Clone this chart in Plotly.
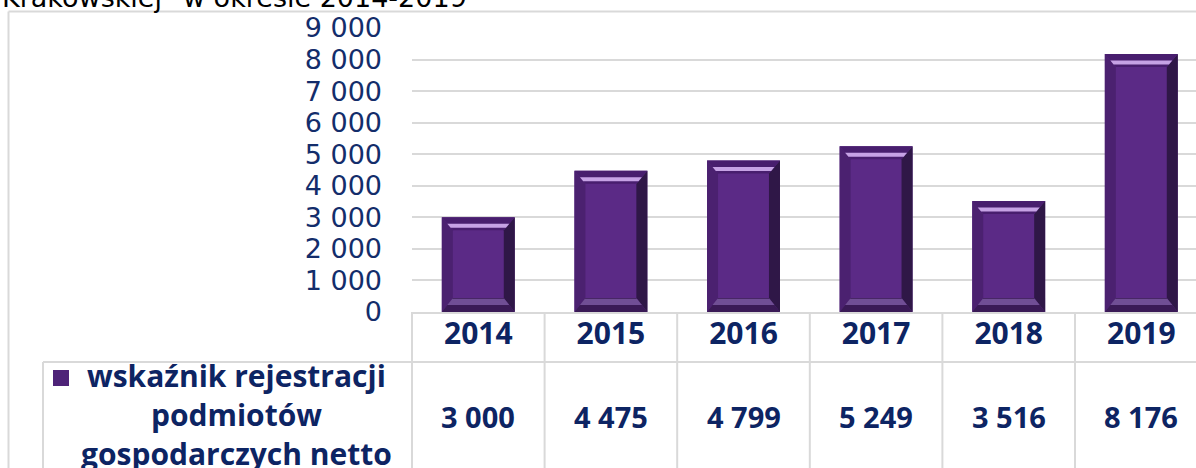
import plotly.graph_objects as go

# ---- data ----
years = ["2014", "2015", "2016", "2017", "2018", "2019"]
values = [3000, 4475, 4799, 5249, 3516, 8176]
series_lines = ["wskaźnik rejestracji", "podmiotów", "gospodarczych netto"]
title_text = 'Krakowskiej" w okresie 2014-2019'
y_ticks = list(range(0, 9001, 1000))

# ---- layout geometry (pixels) ----
W, H = 1196, 468
PL, PR, PT, PB = 412, 1196, 28, 312
CAT_PX = 132.6
XR = [-0.5, -0.5 + (PR - PL) / CAT_PX]
YR = [0, 9000]

def pxx(p):
    return (p - PL) / (PR - PL)

def pxy(p):
    return (PB - p) / (PB - PT)

def dx(p):
    return p / CAT_PX

def dy(p):
    return p * (YR[1] - YR[0]) / (PB - PT)

NAVY = "#0D2463"
TICK = "#132D6B"
GRID = "#D9D9D9"
FACE = "#5B2A86"

xs = list(range(len(years)))
BW = 0.55

fig = go.Figure()
fig.add_trace(go.Bar(x=xs, y=values, width=BW, marker=dict(color=FACE, line=dict(width=0)),
                     showlegend=False, hoverinfo="skip"))

shapes = []
sx, ty, by = dx(11), dy(13), dy(14)

def poly(pts, color, opacity=1.0):
    path = "M " + " L ".join(f"{a},{b}" for a, b in pts) + " Z"
    return dict(type="path", path=path, xref="x", yref="y", fillcolor=color,
                line=dict(width=0), opacity=opacity, layer="above")

for x, v in zip(xs, values):
    x0, x1 = x - BW / 2, x + BW / 2
    # left / right bevels
    shapes.append(poly([(x0, 0), (x0, v), (x0 + sx, v - ty), (x0 + sx, by)], "#4B2170"))
    shapes.append(poly([(x1, 0), (x1, v), (x1 - sx, v - ty), (x1 - sx, by)], "#2F1747"))
    # top bevel
    shapes.append(poly([(x0, v), (x1, v), (x1 - sx, v - ty), (x0 + sx, v - ty)], "#481E6E"))
    f1, f2 = 0.5, 0.8
    shapes.append(poly([(x0 + sx * f1, v - ty * f1), (x1 - sx * f1, v - ty * f1),
                        (x1 - sx * f2, v - ty * f2), (x0 + sx * f2, v - ty * f2)], "#D4B0F2", 0.9))
    # bottom bevel
    shapes.append(poly([(x0, 0), (x1, 0), (x1 - sx, by), (x0 + sx, by)], "#3A1A56"))
    g1, g2 = 0.5, 0.95
    shapes.append(poly([(x0 + sx * g1, by * g1), (x1 - sx * g1, by * g1),
                        (x1 - sx * g2, by * g2), (x0 + sx * g2, by * g2)], "#7A58A0", 0.85))

def line(x0, y0, x1, y1, ref="paper"):
    return dict(type="line", xref=ref, yref="paper", x0=x0, y0=y0, x1=x1, y1=y1,
                line=dict(color=GRID, width=2), layer="above")

# table grid
bottom = pxy(H + 20)
for i in range(len(years) + 1):
    xp = pxx(PL + i * CAT_PX)
    shapes.append(line(xp, 0, xp, bottom))
shapes.append(line(pxx(43), pxy(362), 1.05, pxy(362)))
shapes.append(line(pxx(43), pxy(362), pxx(43), bottom))
# outer frame
shapes.append(line(pxx(8.5), pxy(11.5), pxx(8.5), bottom))
shapes.append(line(pxx(8.5), pxy(11.5), 1.05, pxy(11.5)))
# legend marker
shapes.append(dict(type="rect", xref="paper", yref="paper", x0=pxx(53), x1=pxx(69),
                   y0=pxy(386), y1=pxy(370), fillcolor="#4E2378", line=dict(width=0)))

BOLD = dict(family="Open Sans", color=NAVY, weight="bold")
annotations = []
for x, v in zip(xs, values):
    annotations.append(dict(x=x, xref="x", y=pxy(416), yref="paper", text=f"{v:,}".replace(",", " "),
                            showarrow=False, xanchor="center", yanchor="middle",
                            font=dict(size=29, **BOLD)))
annotations.append(dict(x=pxx(236), xref="paper", y=pxy(414), yref="paper",
                        text="<br>".join(series_lines), align="center",
                        showarrow=False, xanchor="center", yanchor="middle",
                        font=dict(size=30, **BOLD)))
annotations.append(dict(x=pxx(0), xref="paper", y=pxy(-3), yref="paper", text=title_text,
                        showarrow=False, xanchor="left", yanchor="middle",
                        font=dict(family="DejaVu Sans", size=27, color="#000000")))

fig.update_layout(
    width=W, height=H,
    margin=dict(l=PL, r=W - PR, t=PT, b=H - PB, pad=0, autoexpand=False),
    paper_bgcolor="white", plot_bgcolor="white",
    separators=", ",
    shapes=shapes, annotations=annotations,
    xaxis=dict(range=XR, tickvals=xs, ticktext=years, showgrid=False, zeroline=False,
               showline=True, linecolor=GRID, linewidth=2, ticks="", ticklabelstandoff=-6,
               tickfont=dict(size=30, **BOLD),
               automargin=False, fixedrange=True),
    yaxis=dict(range=YR, tickvals=y_ticks, tickformat=",d", showgrid=True, gridcolor=GRID,
               gridwidth=2, zeroline=False, showline=False, ticks="", ticklabelstandoff=29,
               tickfont=dict(family="DejaVu Sans", size=27, color=TICK),
               automargin=False, fixedrange=True),
)

fig.write_html("out.html", config={"displayModeBar": False},
               post_script="document.body.style.margin='0';document.body.style.overflow='hidden';")
